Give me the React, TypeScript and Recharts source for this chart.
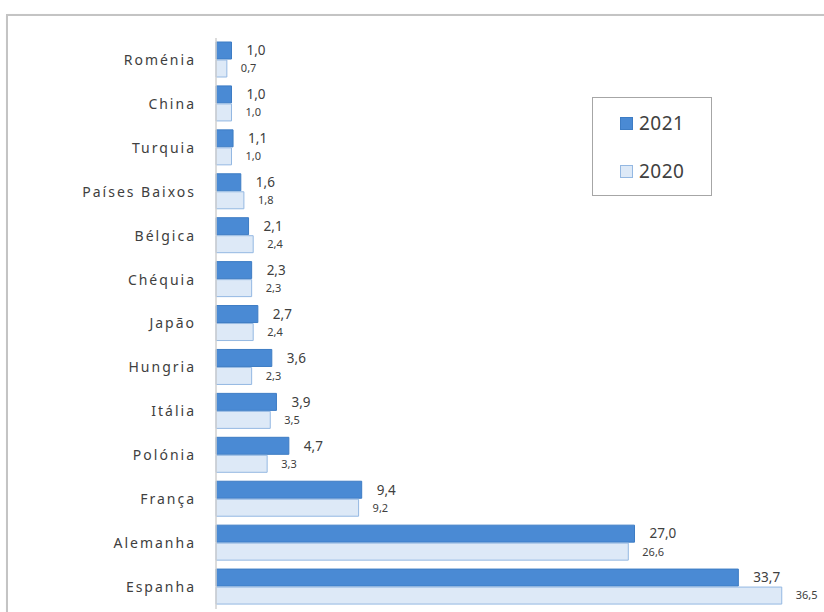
import { Bar, BarChart, LabelList, Legend, XAxis, YAxis } from "recharts";

const countries = [
  "Roménia",
  "China",
  "Turquia",
  "Países Baixos",
  "Bélgica",
  "Chéquia",
  "Japão",
  "Hungria",
  "Itália",
  "Polónia",
  "França",
  "Alemanha",
  "Espanha",
];
const values2021 = [1.0, 1.0, 1.1, 1.6, 2.1, 2.3, 2.7, 3.6, 3.9, 4.7, 9.4, 27.0, 33.7];
const values2020 = [0.7, 1.0, 1.0, 1.8, 2.4, 2.3, 2.4, 2.3, 3.5, 3.3, 9.2, 26.6, 36.5];

const data = countries.map((name, i) => ({
  name,
  y2021: values2021[i],
  y2020: values2020[i],
}));

const FONT = "'Noto Sans', 'Open Sans', sans-serif";
const TEXT = "#404040";
const fmt = (v: number) => v.toFixed(1).replace(".", ",");

function LegendBox({ payload }: any) {
  const items = [...(payload || [])].sort((a: any, b: any) =>
    String(b.value).localeCompare(String(a.value))
  );
  return (
    <div
      style={{
        boxSizing: "border-box",
        width: 120,
        height: 99,
        border: "1.5px solid #a6a6a6",
        background: "#fff",
        paddingTop: 1,
        paddingLeft: 27,
        fontFamily: FONT,
      }}
    >
      {items.map((p: any) => (
        <div key={p.value} style={{ display: "flex", alignItems: "center", height: 48 }}>
          <span
            style={{
              display: "inline-block",
              width: 11,
              height: 11,
              background: p.payload.fill,
              border: `1px solid ${p.payload.stroke}`,
              marginRight: 6,
            }}
          />
          <span style={{ fontSize: 19, color: TEXT, letterSpacing: 0.5 }}>{p.value}</span>
        </div>
      ))}
    </div>
  );
}

export default function App() {
  return (
    <div
      style={{
        position: "absolute",
        left: 0,
        top: 0,
        width: 824,
        height: 612,
        overflow: "hidden",
        background: "#fff",
      }}
    >
      <div
        style={{
          position: "absolute",
          left: 6,
          top: 14,
          width: 900,
          height: 700,
          border: "2px solid #c4c4c4",
          boxShadow: "1px 1px 2px #ddd",
        }}
      />
      <div style={{ position: "absolute", left: 0, top: 0 }}>
        <BarChart
          width={900}
          height={640}
          data={data}
          layout="vertical"
          margin={{ top: 38, right: 64, bottom: 31, left: 0 }}
          barCategoryGap={4}
          barGap={1}
        >
          <XAxis type="number" domain={[0, 40]} hide />
          <YAxis
            type="category"
            dataKey="name"
            width={216}
            axisLine={{ stroke: "#d0d0d0", strokeWidth: 1.5 }}
            tickLine={false}
            tickSize={0}
            tickMargin={20}
            tick={{ fill: TEXT, fontSize: 14, fontFamily: FONT, letterSpacing: 2 }}
            interval={0}
          />
          <Legend
            layout="horizontal"
            verticalAlign="middle"
            align="center"
            content={<LegendBox />}
            wrapperStyle={{ left: 592, top: 97, width: 120, height: 99 }}
          />
          <Bar dataKey="y2021" name="2021" fill="#4a8ad4" stroke="#3d7cc4" isAnimationActive={false}>
            <LabelList
              dataKey="y2021"
              position="right"
              offset={15}
              formatter={(v: any) => fmt(Number(v))}
              fill={TEXT}
              fontSize={13.5}
              fontFamily={FONT}
            />
          </Bar>
          <Bar dataKey="y2020" name="2020" fill="#dde9f7" stroke="#94b8e2" isAnimationActive={false}>
            <LabelList
              dataKey="y2020"
              position="right"
              offset={14}
              formatter={(v: any) => fmt(Number(v))}
              fill={TEXT}
              fontSize={11}
              fontFamily={FONT}
            />
          </Bar>
        </BarChart>
      </div>
    </div>
  );
}
